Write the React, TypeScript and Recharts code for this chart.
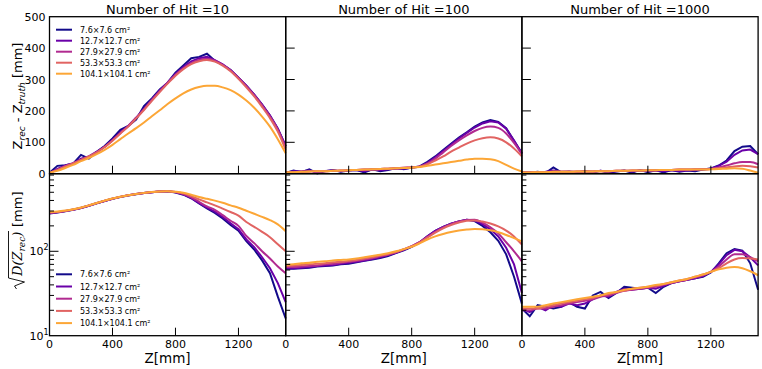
import React from 'react';
import { LineChart, Line, XAxis, YAxis } from 'recharts';

// ---------- data ----------
const Z_MM = [0, 50, 100, 150, 200, 250, 300, 350, 400, 450, 500, 550, 600, 650, 700, 750, 800, 850, 900, 950, 1000, 1050, 1100, 1150, 1200, 1250, 1300, 1350, 1400, 1450, 1500];
const SIZE_LABELS = ['7.6\u00d77.6 cm\u00b2', '12.7\u00d712.7 cm\u00b2', '27.9\u00d727.9 cm\u00b2', '53.3\u00d753.3 cm\u00b2', '104.1\u00d7104.1 cm\u00b2'];
const COLORS = ['#120a8a', '#6a00a8', '#b12a90', '#e16462', '#fca636'];
const HIT_COUNTS = ['10', '100', '1000'];
const X_TICKS = [0, 400, 800, 1200];
const BIAS_TICKS = [0, 100, 200, 300, 400, 500];
const SIGMA_TICKS = [10, 20, 30, 40, 50, 60, 70, 80, 90, 100, 200, 300, 400, 500, 600, 700, 800];

// top row: Z_rec - Z_truth [mm]
const TL_BLUE = [3, 25, 27, 32, 60, 48, 70, 88, 112, 140, 152, 172, 215, 240, 268, 290, 322, 345, 368, 372, 382, 360, 347, 330, 306, 280, 252, 220, 185, 143, 88];
const TL_PURPLE = [2, 15, 26, 33, 48, 55, 70, 86, 108, 132, 152, 178, 207, 236, 265, 290, 318, 340, 358, 368, 372, 362, 348, 330, 306, 280, 252, 220, 185, 143, 88];
const TL_MAGENTA = [3, 12, 24, 33, 44, 55, 68, 85, 106, 129, 152, 178, 205, 235, 263, 290, 315, 336, 352, 362, 366, 360, 347, 329, 305, 279, 250, 218, 182, 140, 82];
const TL_SALMON = [3, 12, 23, 33, 44, 55, 68, 85, 105, 128, 150, 176, 203, 232, 260, 287, 312, 333, 349, 358, 362, 357, 344, 326, 302, 275, 246, 213, 177, 134, 76];
const TL_ORANGE = [3, 9, 18, 28, 40, 50, 62, 76, 92, 110, 128, 145, 163, 183, 202, 222, 240, 256, 268, 276, 280, 280, 275, 266, 252, 233, 210, 182, 150, 110, 65];

const TM_BLUE = [2, 10, 5, 14, 1, 8, 12, 6, 10, 12, 4, 14, 8, 12, 18, 14, 20, 23, 38, 55, 75, 95, 115, 132, 150, 163, 171, 165, 145, 105, 65];
const TM_PURPLE = [3, 8, 8, 10, 4, 9, 10, 8, 11, 12, 8, 13, 11, 14, 16, 16, 19, 22, 35, 52, 72, 92, 112, 130, 147, 160, 167, 163, 143, 106, 64];
const TM_MAGENTA = [4, 5, 6, 7, 8, 8, 9, 10, 11, 12, 13, 14, 15, 16, 17, 19, 20, 23, 32, 48, 68, 88, 106, 122, 136, 146, 150, 146, 128, 98, 62];
const TM_SALMON = [4, 5, 6, 7, 8, 8, 9, 10, 11, 12, 13, 14, 15, 16, 17, 19, 20, 22, 30, 42, 55, 70, 83, 96, 106, 113, 116, 112, 100, 80, 55];
const TM_ORANGE = [4, 5, 6, 7, 8, 8, 9, 10, 11, 12, 13, 14, 15, 16, 17, 18, 19, 21, 25, 29, 33, 37, 41, 45, 48, 48, 46, 40, 28, 16, 7];

const TR_BLUE = [5, 3, 6, 2, 20, 4, 6, 3, 8, 4, 9, 2, 7, 10, 3, 12, 5, 11, 4, 12, 6, 10, 8, 13, 17, 26, 42, 72, 86, 88, 62];
const TR_PURPLE = [4, 5, 5, 6, 10, 6, 7, 5, 8, 6, 9, 6, 8, 9, 7, 10, 8, 10, 8, 11, 9, 10, 11, 13, 16, 25, 38, 60, 74, 77, 62];
const TR_MAGENTA = [4, 4, 5, 5, 6, 6, 6, 7, 7, 7, 8, 8, 9, 9, 10, 10, 11, 11, 12, 12, 13, 13, 14, 14, 15, 20, 26, 33, 37, 37, 30];
const TR_SALMON = [4, 4, 5, 5, 6, 6, 6, 7, 7, 7, 8, 8, 9, 9, 10, 10, 11, 11, 12, 12, 13, 13, 14, 14, 15, 17, 20, 23, 25, 24, 20];
const TR_ORANGE = [4, 4, 5, 5, 6, 6, 6, 7, 7, 7, 8, 8, 9, 9, 10, 10, 11, 11, 12, 12, 13, 13, 13, 13, 14, 15, 16, 17, 16, 10, 3];

// bottom row: sqrt(D(Z_rec)) [mm]
const BL_BLUE = [280, 288, 297, 310, 325, 346, 370, 394, 418, 440, 459, 475, 489, 501, 510, 513, 498, 468, 425, 368, 322, 285, 245, 205, 175, 132, 105, 78, 55, 29, 16];
const BL_PURPLE = [283, 290, 299, 311, 326, 347, 371, 395, 419, 441, 460, 476, 490, 502, 511, 514, 500, 472, 430, 372, 330, 295, 255, 215, 183, 138, 112, 85, 63, 42, 25];
const BL_MAGENTA = [286, 291, 300, 312, 327, 348, 372, 396, 420, 441, 460, 476, 490, 502, 511, 515, 502, 478, 435, 385, 340, 310, 268, 230, 200, 152, 125, 100, 82, 66, 55];
const BL_SALMON = [288, 292, 301, 313, 328, 349, 373, 397, 421, 442, 461, 477, 491, 503, 511, 515, 504, 485, 450, 412, 380, 350, 320, 292, 265, 222, 195, 170, 147, 121, 100];
const BL_ORANGE = [292, 296, 304, 315, 330, 350, 374, 398, 422, 443, 462, 478, 492, 503, 511, 515, 508, 495, 468, 440, 418, 398, 375, 350, 328, 302, 278, 256, 234, 208, 173];

const BM_BLUE = [62, 62, 63, 64, 66, 67, 68, 70, 71, 74, 77, 80, 83, 88, 95, 103, 113, 127, 150, 175, 195, 212, 226, 236, 228, 200, 168, 133, 92, 50, 24];
const BM_PURPLE = [63, 63, 64, 65, 67, 68, 69, 71, 73, 75, 78, 81, 85, 90, 96, 104, 114, 128, 150, 174, 194, 212, 226, 236, 232, 210, 182, 150, 110, 70, 32];
const BM_MAGENTA = [65, 65, 66, 67, 68, 70, 71, 73, 75, 77, 80, 83, 87, 91, 97, 105, 115, 128, 148, 170, 192, 210, 225, 235, 236, 218, 192, 163, 128, 100, 76];
const BM_SALMON = [67, 68, 69, 70, 71, 72, 74, 75, 77, 79, 82, 85, 89, 93, 98, 106, 115, 127, 145, 166, 187, 205, 219, 230, 232, 225, 213, 197, 176, 150, 120];
const BM_ORANGE = [69, 70, 72, 73, 75, 76, 78, 79, 80, 82, 85, 88, 91, 95, 100, 106, 113, 124, 138, 150, 160, 169, 176, 181, 184, 182, 177, 168, 156, 143, 131];

const BR_BLUE = [21, 17, 23, 22, 21, 22, 25, 22, 21, 30, 33, 28, 32, 38, 37, 36, 37, 32, 38, 42, 44, 46, 48, 50, 56, 72, 95, 106, 102, 72, 35];
const BR_PURPLE = [21, 19, 22, 20, 23, 22, 24, 23, 24, 27, 30, 29, 33, 36, 35, 36, 37, 36, 39, 42, 44, 46, 48, 51, 57, 70, 90, 104, 100, 85, 68];
const BR_MAGENTA = [20, 20, 21, 21, 22, 23, 24, 25, 26, 27, 29, 30, 32, 34, 35, 36, 37, 38, 40, 42, 44, 46, 49, 52, 57, 66, 80, 92, 92, 85, 76];
const BR_SALMON = [21, 21, 21, 22, 23, 24, 25, 26, 27, 28, 30, 31, 33, 34, 36, 37, 38, 39, 41, 43, 45, 47, 50, 53, 57, 63, 72, 80, 83, 82, 80];
const BR_ORANGE = [22, 22, 22, 23, 24, 25, 26, 27, 28, 29, 30, 32, 33, 35, 36, 37, 38, 40, 41, 43, 45, 47, 50, 53, 57, 61, 64, 65, 63, 58, 52];

const PANEL_SERIES = [
  [[TL_BLUE, TL_PURPLE, TL_MAGENTA, TL_SALMON, TL_ORANGE], [TM_BLUE, TM_PURPLE, TM_MAGENTA, TM_SALMON, TM_ORANGE], [TR_BLUE, TR_PURPLE, TR_MAGENTA, TR_SALMON, TR_ORANGE]],
  [[BL_BLUE, BL_PURPLE, BL_MAGENTA, BL_SALMON, BL_ORANGE], [BM_BLUE, BM_PURPLE, BM_MAGENTA, BM_SALMON, BM_ORANGE], [BR_BLUE, BR_PURPLE, BR_MAGENTA, BR_SALMON, BR_ORANGE]],
];

// ---------- layout ----------
const W = 762;
const H = 369;
const COL_X = [49.5, 285.7, 521.9];
const PW = 236.2;
const ROW_Y = [16.7, 173.7];
const ROW_H = [157, 162];
const Y_AXIS_W = 40;
const X_AXIS_H = 20;
const FONT = '"DejaVu Sans", sans-serif';

function XTick(props: any) {
  const { x, y, payload, row } = props;
  const v = payload.value;
  return (
    <g>
      {v !== 0 && <line x1={x} x2={x} y1={y} y2={y - 8} stroke="#000" strokeWidth={1} />}
      {row === 1 && (
        <text x={x} y={y + 12} textAnchor="middle" fontSize={11} fontFamily={FONT} fill="#000">
          {v}
        </text>
      )}
    </g>
  );
}

function BiasTick(props: any) {
  const { x, y, payload, col } = props;
  const v = payload.value;
  if (col === 0) {
    return (
      <text x={x - 4} y={y + 4} textAnchor="end" fontSize={11} fontFamily={FONT} fill="#000">
        {v}
      </text>
    );
  }
  if (v === 0 || v === 500) return <g />;
  return <line x1={x} x2={x + 9} y1={y} y2={y} stroke="#000" strokeWidth={1} />;
}

function SigmaTick(props: any) {
  const { x, y, payload, col } = props;
  const v = payload.value;
  const major = v === 10 || v === 100;
  return (
    <g>
      {v !== 10 && <line x1={x} x2={x + (major ? 9 : 4.5)} y1={y} y2={y} stroke="#000" strokeWidth={1} />}
      {col === 0 && major && (
        <text x={x - 1} y={y + 4} textAnchor="end" fontSize={11} fontFamily={FONT} fill="#000">
          10
          <tspan fontSize={8} dy={-5}>{v === 10 ? '1' : '2'}</tspan>
        </text>
      )}
    </g>
  );
}

function Panel({ row, col }: { row: number; col: number }) {
  const series = PANEL_SERIES[row][col];
  const data = Z_MM.map((z, i) => ({
    z,
    s0: series[0][i],
    s1: series[1][i],
    s2: series[2][i],
    s3: series[3][i],
    s4: series[4][i],
  }));
  const left = COL_X[col];
  const top = ROW_Y[row];
  return (
    <div style={{ position: 'absolute', left: 0, top: 0 }}>
      <LineChart
        width={W}
        height={H}
        data={data}
        margin={{ top, left: left - Y_AXIS_W, right: W - left - PW, bottom: H - top - ROW_H[row] - X_AXIS_H }}
      >
        <XAxis
          dataKey="z"
          type="number"
          domain={[0, 1500]}
          ticks={X_TICKS}
          interval={0}
          height={X_AXIS_H}
          tickSize={0}
          tickMargin={0}
          axisLine={false}
          tickLine={false}
          tick={(p: any) => <XTick {...p} row={row} />}
        />
        {row === 0 ? (
          <YAxis
            type="number"
            domain={[0, 500]}
            ticks={BIAS_TICKS}
            interval={0}
            width={Y_AXIS_W}
            tickSize={0}
            tickMargin={0}
            axisLine={false}
            tickLine={false}
            tick={(p: any) => <BiasTick {...p} col={col} />}
          />
        ) : (
          <YAxis
            type="number"
            scale="log"
            domain={[10, 830]}
            ticks={SIGMA_TICKS}
            interval={0}
            width={Y_AXIS_W}
            tickSize={0}
            tickMargin={0}
            axisLine={false}
            tickLine={false}
            allowDataOverflow
            tick={(p: any) => <SigmaTick {...p} col={col} />}
          />
        )}
        {[0, 1, 2, 3, 4].map((i) => (
          <Line
            key={i}
            dataKey={`s${i}`}
            name={SIZE_LABELS[i]}
            type={i < 2 ? 'linear' : 'monotone'}
            stroke={COLORS[i]}
            strokeWidth={2}
            dot={false}
            activeDot={false}
            isAnimationActive={false}
          />
        ))}
      </LineChart>
    </div>
  );
}

function LegendBox({ rows }: { rows: number[] }) {
  return (
    <g>
      {SIZE_LABELS.map((lab, i) => (
        <g key={i}>
          <line x1={56} x2={72} y1={rows[i]} y2={rows[i]} stroke={COLORS[i]} strokeWidth={2} />
          <text x={80} y={rows[i] + 3} fontSize={8} fontFamily={FONT} fill="#000">
            {lab}
          </text>
        </g>
      ))}
    </g>
  );
}

export default function App() {
  return (
    <div style={{ position: 'absolute', left: 0, top: 0, width: W, height: H, background: '#fff', overflow: 'hidden' }}>
      {[0, 1].map((r) => [0, 1, 2].map((c) => <Panel key={`${r}-${c}`} row={r} col={c} />))}
      <svg width={W} height={H} style={{ position: 'absolute', left: 0, top: 0, pointerEvents: 'none' }}>
        {[0, 1].map((r) =>
          [0, 1, 2].map((c) => (
            <rect key={`f${r}${c}`} x={COL_X[c]} y={ROW_Y[r]} width={PW} height={ROW_H[r]} fill="none" stroke="#000" strokeWidth={1.3} />
          ))
        )}
        {HIT_COUNTS.map((h, c) => (
          <text key={`t${c}`} x={COL_X[c] + PW / 2} y={13.6} textAnchor="middle" fontSize={13} fontFamily={FONT} fill="#000">
            {`Number of Hit =${h}`}
          </text>
        ))}
        {[0, 1, 2].map((c) => (
          <text key={`x${c}`} x={COL_X[c] + PW / 2} y={362.5} textAnchor="middle" fontSize={13.5} fontFamily={FONT} fill="#000">
            Z[mm]
          </text>
        ))}
        <text transform="translate(21.5,96) rotate(-90)" textAnchor="middle" fontSize={13} fontFamily={FONT} fill="#000">
          Z
          <tspan fontSize={9} fontStyle="italic" dy={3}>rec</tspan>
          <tspan dy={-3}> - Z</tspan>
          <tspan fontSize={9} fontStyle="italic" dy={3}>truth</tspan>
          <tspan dy={-3}> [mm]</tspan>
        </text>
        <g transform="translate(21.5,240) rotate(-90)">
          <path d="M -49 -5 L -46 -7 L -42 3 L -38 -13 L 9 -13" fill="none" stroke="#000" strokeWidth={0.9} />
          <text x={-36} y={0} fontSize={13} fontFamily='"DejaVu Serif", serif' fontStyle="italic" fill="#000">
            D(Z
            <tspan fontSize={9} dy={3}>rec</tspan>
            <tspan dy={-3}>)</tspan>
          </text>
          <text x={13} y={0} fontSize={13} fontFamily={FONT} fill="#000">[mm]</text>
        </g>
        <LegendBox rows={[29.7, 40.7, 51.7, 62.7, 73.7]} />
        <LegendBox rows={[274.3, 286.5, 298.7, 310.9, 323.1]} />
      </svg>
    </div>
  );
}
